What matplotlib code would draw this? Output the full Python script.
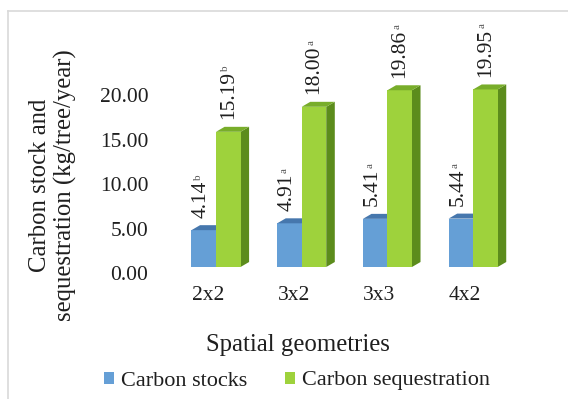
import matplotlib
matplotlib.use("Agg")
import matplotlib.pyplot as plt
from matplotlib.patches import Polygon, Patch
from matplotlib.lines import Line2D
from matplotlib.transforms import ScaledTranslation

plt.rcParams["font.family"] = ["Liberation Serif", "DejaVu Serif"]

# Data
geometries = ["2x2", "3x2", "3x3", "4x2"]
carbon_stocks = [4.14, 4.91, 5.41, 5.44]
carbon_sequestration = [15.19, 18.00, 19.86, 19.95]
stock_letters = ["b", "a", "a", "a"]
seq_letters = ["b", "a", "a", "a"]
series_names = ["Carbon stocks", "Carbon sequestration"]
yticks = [0, 5, 10, 15, 20]

FS = 15.5
TITLE_FS = 17.8
TXT = "#1f1f1f"

# Face colours for the pseudo-3D columns: (front, side, top)
blue = ("#659fd6", "#3f6f9e", "#4677ad")
green = ("#9ed23c", "#5c8c1c", "#78ad2a")

fig = plt.figure(figsize=(5.68, 3.99), dpi=100)
ax = fig.add_axes([156.6 / 568, 1 - 267 / 399, 360 / 568, 213.6 / 399])

W = 0.286   # column width
OFF = 0.093 # front split offset from the tick
DX = 0.10   # depth, x units
DY = 0.56   # depth, y units


def draw_column(x0, h, cols, z):
    front, side, top = cols
    ax.bar(x0, h, width=W, align="edge", color=front, zorder=z, linewidth=0)
    x1 = x0 + W
    ax.add_patch(Polygon([(x1, 0), (x1 + DX, DY), (x1 + DX, h + DY), (x1, h)],
                         closed=True, facecolor=side, edgecolor="none", zorder=z - 0.5))
    ax.add_patch(Polygon([(x0, h), (x1, h), (x1 + DX, h + DY), (x0 + DX, h + DY)],
                         closed=True, facecolor=top, edgecolor="none", zorder=z + 0.1))


lbl_off = ScaledTranslation(0, 5.5 / 72, fig.dpi_scale_trans)


def value_label(x, h, letter):
    t = ax.text(x, h + DY, f"{h:.2f}", rotation=90, ha="center", va="bottom",
                fontsize=FS, color=TXT, transform=ax.transData + lbl_off, zorder=20)
    ax.annotate(letter, xy=(0.0, 1.0), xycoords=t, xytext=(1.5, 0.3),
                textcoords="offset points", rotation=90, ha="left", va="bottom",
                fontsize=8, color="#555555", zorder=20)


for i, (s, q) in enumerate(zip(carbon_stocks, carbon_sequestration)):
    z = 2 + i * 3
    draw_column(i + OFF - W, s, blue, z)
    draw_column(i + OFF, q, green, z + 1.5)
    value_label(i + OFF - W / 2 - 0.03, s, stock_letters[i])
    value_label(i + OFF + W / 2, q, seq_letters[i])

ax.set_xlim(-0.6, 3.6)
ax.set_ylim(0, 24)
ax.set_xticks(range(len(geometries)))
ax.set_xticklabels(geometries, fontsize=FS, color=TXT)
ax.set_yticks(yticks)
ax.set_yticklabels([f"{v:.2f}" for v in yticks], fontsize=FS, color=TXT)
ax.tick_params(axis="both", length=0)
ax.tick_params(axis="x", pad=14)
ax.tick_params(axis="y", pad=6)
shift = ScaledTranslation(0, -4.5 / 72, fig.dpi_scale_trans)
for t in ax.get_yticklabels():
    t.set_transform(t.get_transform() + shift)
for sp in ax.spines.values():
    sp.set_visible(False)
ax.patch.set_visible(False)

fig.text(53 / 568, 1 - 185 / 399, "Carbon stock and\nsequestration (kg/tree/year)",
         rotation=90, ha="center", va="center", fontsize=TITLE_FS, color=TXT,
         linespacing=1.2, multialignment="center")
fig.text(298 / 568, 1 - 345 / 399, "Spatial geometries", ha="center", va="center",
         fontsize=TITLE_FS, color=TXT)

handles = [Patch(facecolor=blue[0]), Patch(facecolor=green[0])]
fig.legend(handles, series_names, loc="center", bbox_to_anchor=(297 / 568, 1 - 381 / 399),
           ncol=2, frameon=False, fontsize=16, handlelength=0.45, handleheight=0.45,
           handletextpad=0.3, columnspacing=1.7, labelcolor=TXT)

# light outer frame
fig.add_artist(Line2D([8 / 568, 8 / 568], [0, 1 - 11 / 399], transform=fig.transFigure,
                      color="#d9d9d9", lw=1.2))
fig.add_artist(Line2D([8 / 568, 1], [1 - 11 / 399, 1 - 11 / 399], transform=fig.transFigure,
                      color="#d9d9d9", lw=1.2))

fig.savefig("out.png", dpi=100)
